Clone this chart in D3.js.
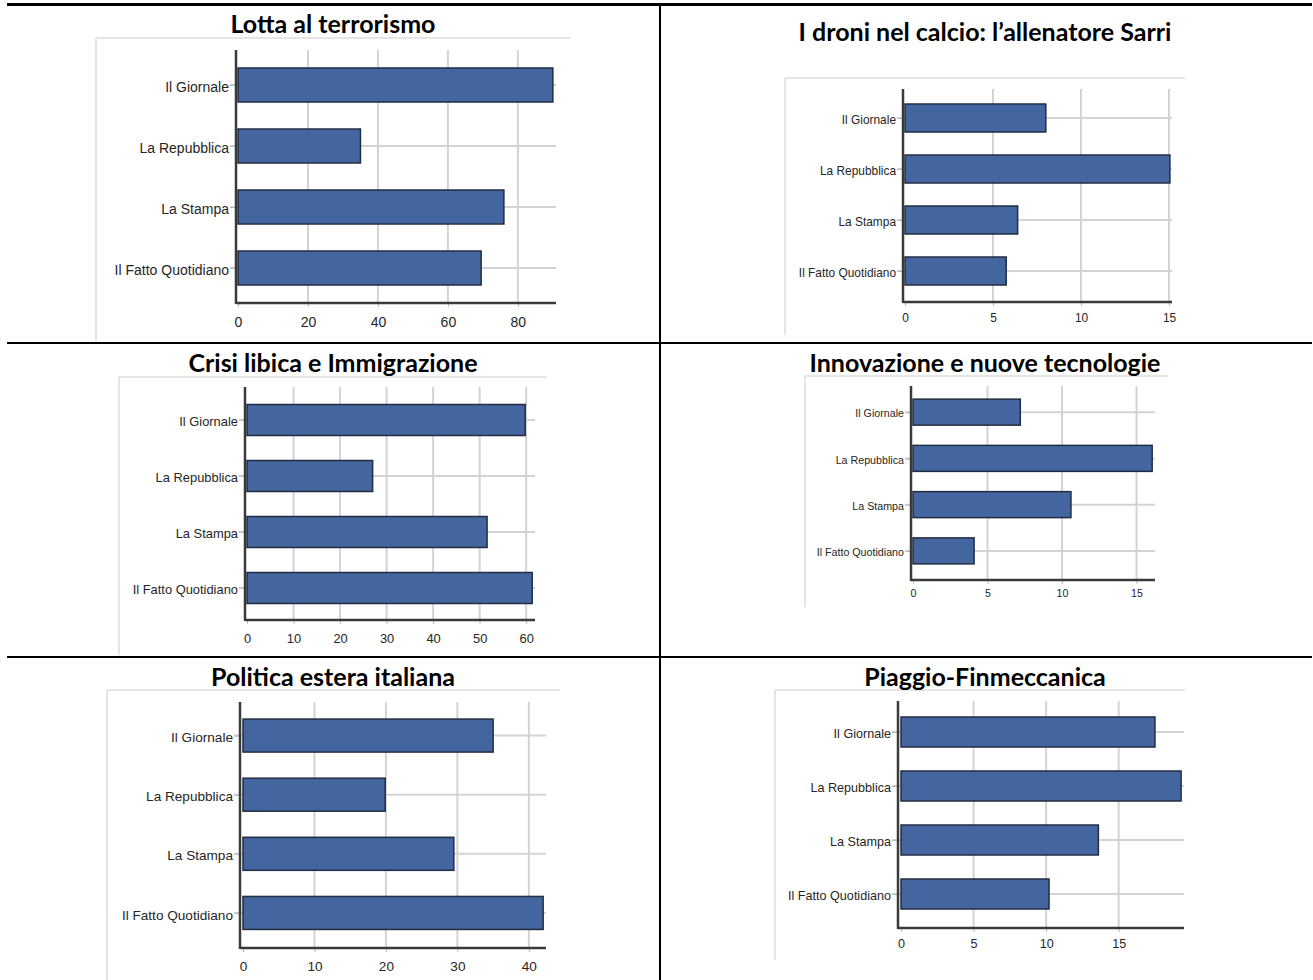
<!DOCTYPE html>
<html>
<head>
<meta charset="utf-8">
<script src="https://cdn.jsdelivr.net/npm/d3@7"></script>
<style>
  html, body { margin: 0; padding: 0; background: #fff; }
  svg { display: block; }
</style>
</head>
<body>
<svg id="chart" width="1313" height="980"></svg>
<script>
// ---------------- DATA ----------------
const categories = ["Il Giornale", "La Repubblica", "La Stampa", "Il Fatto Quotidiano"];
const titles = [
  "Lotta al terrorismo",
  "I droni nel calcio: l’allenatore Sarri",
  "Crisi libica e Immigrazione",
  "Innovazione e nuove tecnologie",
  "Politica estera italiana",
  "Piaggio-Finmeccanica"
];
const valuesLotta       = [90, 35, 76, 69.5];
const valuesDroni       = [8, 15.05, 6.4, 5.75];
const valuesCrisi       = [59.8, 27, 51.6, 61.3];
const valuesInnovazione = [7.2, 16.05, 10.6, 4.1];
const valuesPolitica    = [35, 19.9, 29.5, 42];
const valuesPiaggio     = [17.5, 19.3, 13.6, 10.2];

const ticksLotta       = [0, 20, 40, 60, 80];
const ticksDroni       = [0, 5, 10, 15];
const ticksCrisi       = [0, 10, 20, 30, 40, 50, 60];
const ticksInnovazione = [0, 5, 10, 15];
const ticksPolitica    = [0, 10, 20, 30, 40];
const ticksPiaggio     = [0, 5, 10, 15];

const axisMax = [90.9, 15.17, 61.9, 16.24, 42.4, 19.5];

// ---------------- LAYOUT ----------------
const layouts = [
  {tx: 333, ty: 23, fx0: 96, fy0: 38, fx1: 570, fy1: 341, x0: 238, xEnd: 556, yAx: 236, top: 50, axY: 303, bTop: 54.5, bBot: 298.5, bh: 34, fs: 14, tickPad: 10},
  {tx: 985, ty: 31, fx0: 785, fy0: 78, fx1: 1185, fy1: 335, x0: 905, xEnd: 1172, yAx: 903, top: 89, axY: 302, bTop: 92.5, bBot: 296.5, bh: 28, fs: 11.9, tickPad: 8},
  {tx: 333, ty: 362, fx0: 119, fy0: 377, fx1: 547, fy1: 655, x0: 247, xEnd: 535, yAx: 245, top: 387, axY: 620, bTop: 392, bBot: 616, bh: 31, fs: 12.9, tickPad: 9.5},
  {tx: 985, ty: 362, fx0: 805, fy0: 376, fx1: 1168, fy1: 607, x0: 913, xEnd: 1155, yAx: 911, top: 386, axY: 580, bTop: 389, bBot: 574, bh: 26, fs: 10.7, tickPad: 5},
  {tx: 333, ty: 676, fx0: 107, fy0: 690, fx1: 560, fy1: 980, x0: 243, xEnd: 546, yAx: 240, top: 702, axY: 948, bTop: 706, bBot: 942.5, bh: 33, fs: 13.6, tickPad: 9},
  {tx: 985, ty: 676, fx0: 775, fy0: 690, fx1: 1185, fy1: 960, x0: 901, xEnd: 1184, yAx: 898, top: 701, axY: 928, bTop: 705, bBot: 921, bh: 30, fs: 12.6, tickPad: 7.5}
];

const allValues = [valuesLotta, valuesDroni, valuesCrisi, valuesInnovazione, valuesPolitica, valuesPiaggio];
const allTicks = [ticksLotta, ticksDroni, ticksCrisi, ticksInnovazione, ticksPolitica, ticksPiaggio];

const svg = d3.select("#chart");

const BAR_FILL = "#4365a0";
const BAR_STROKE = "#232d40";
const GRID = "#d3d3d3";
const AXIS = "#3a3a3a";
const FRAME = "#dddddd";
const LABEL = "#262626";

// table rules
svg.append("line").attr("x1", 7).attr("x2", 1312).attr("y1", 4.5).attr("y2", 4.5).attr("stroke", "#000").attr("stroke-width", 3);
svg.append("line").attr("x1", 7).attr("x2", 1312).attr("y1", 343).attr("y2", 343).attr("stroke", "#000").attr("stroke-width", 2);
svg.append("line").attr("x1", 7).attr("x2", 1312).attr("y1", 657).attr("y2", 657).attr("stroke", "#000").attr("stroke-width", 2);
svg.append("line").attr("x1", 660).attr("x2", 660).attr("y1", 4).attr("y2", 980).attr("stroke", "#000").attr("stroke-width", 2);

layouts.forEach((L, i) => {
  const vals = allValues[i];
  const g = svg.append("g");

  // frame (light border: top + left)
  g.append("line").attr("x1", L.fx0).attr("x2", L.fx1).attr("y1", L.fy0).attr("y2", L.fy0)
    .attr("stroke", FRAME).attr("stroke-width", 1.5);
  g.append("line").attr("x1", L.fx0).attr("x2", L.fx0).attr("y1", L.fy0).attr("y2", L.fy1)
    .attr("stroke", FRAME).attr("stroke-width", 1.5);

  // title
  g.append("text").attr("x", L.tx).attr("y", L.ty).attr("text-anchor", "middle")
    .attr("dominant-baseline", "central")
    .style("font-family", "Lato, 'Open Sans', sans-serif").style("font-weight", "bold")
    .style("font-size", "25px").attr("fill", "#000").text(titles[i]);

  const x = d3.scaleLinear().domain([0, axisMax[i]]).range([L.x0, L.xEnd]);
  const y = d3.scalePoint().domain(categories).range([L.bTop, L.bBot]).padding(0.5);

  // vertical gridlines
  g.selectAll(".vg").data(allTicks[i].filter(t => t !== 0)).enter().append("line")
    .attr("x1", d => x(d)).attr("x2", d => x(d)).attr("y1", L.top).attr("y2", L.axY)
    .attr("stroke", GRID).attr("stroke-width", 2);

  // horizontal gridlines
  g.selectAll(".hg").data(categories).enter().append("line")
    .attr("x1", L.yAx - 6).attr("x2", L.xEnd).attr("y1", d => y(d)).attr("y2", d => y(d))
    .attr("stroke", GRID).attr("stroke-width", 2);

  // bars
  g.selectAll(".bar").data(categories).enter().append("rect")
    .attr("x", x(0)).attr("y", d => y(d) - L.bh / 2)
    .attr("width", (d, j) => x(vals[j]) - x(0)).attr("height", L.bh)
    .attr("fill", BAR_FILL).attr("stroke", BAR_STROKE).attr("stroke-width", 1.5);

  // x axis ticks and labels
  const xa = d3.axisBottom(x).tickValues(allTicks[i]).tickSize(4).tickPadding(L.tickPad);
  const gx = g.append("g").attr("transform", `translate(0,${L.axY})`).call(xa);
  gx.select(".domain").remove();
  gx.selectAll(".tick line").attr("stroke", "#bbb").attr("stroke-width", 1);
  gx.selectAll(".tick text").attr("fill", LABEL)
    .style("font-family", "'Liberation Sans', Arial, sans-serif").style("font-size", L.fs + "px");

  // y axis labels
  const ya = d3.axisLeft(y).tickSize(6).tickPadding(1);
  const gy = g.append("g").attr("transform", `translate(${L.yAx},0)`).call(ya);
  gy.select(".domain").remove();
  gy.selectAll(".tick line").attr("stroke", "#bbb").attr("stroke-width", 1);
  gy.selectAll(".tick text").attr("fill", LABEL).attr("dy", "0.45em")
    .style("font-family", "'Liberation Sans', Arial, sans-serif").style("font-size", L.fs + "px");

  // axis lines
  g.append("line").attr("x1", L.yAx).attr("x2", L.yAx).attr("y1", L.top).attr("y2", L.axY + 1)
    .attr("stroke", AXIS).attr("stroke-width", 2.5);
  g.append("line").attr("x1", L.yAx).attr("x2", L.xEnd).attr("y1", L.axY).attr("y2", L.axY)
    .attr("stroke", AXIS).attr("stroke-width", 2.5);
});
</script>
</body>
</html>
